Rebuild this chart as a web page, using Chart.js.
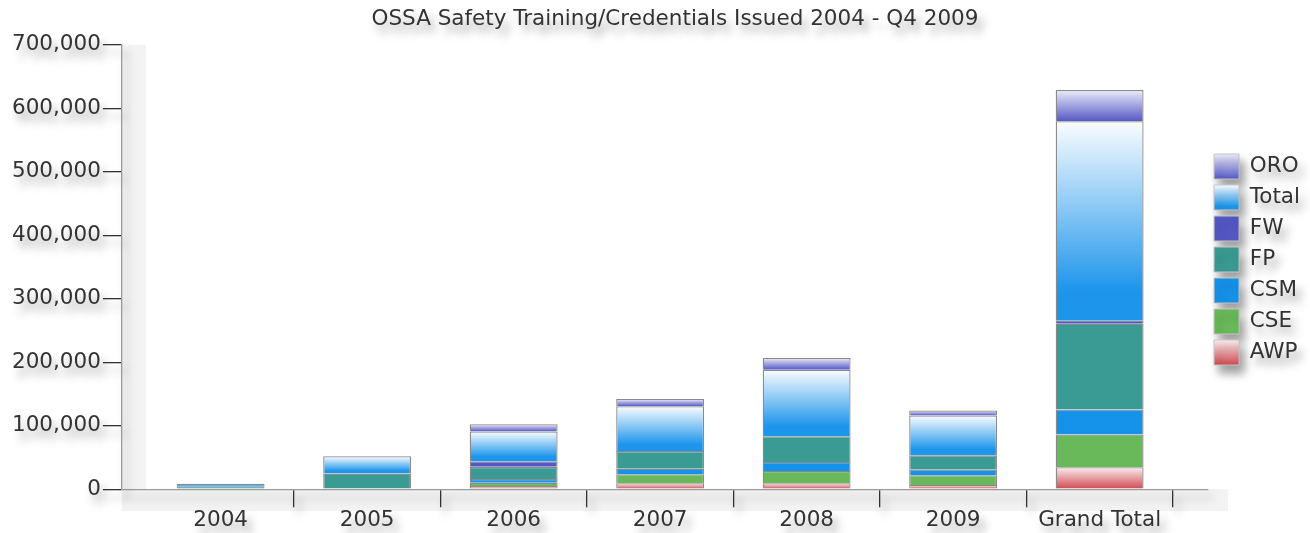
<!DOCTYPE html>
<html>
<head>
<meta charset="utf-8">
<title>OSSA Safety Training/Credentials Issued 2004 - Q4 2009</title>
<script src="https://cdn.jsdelivr.net/npm/chart.js@4.4.1/dist/chart.umd.min.js"></script>
<style>
  html, body { margin: 0; padding: 0; background: #fff; }
  #wrap { position: relative; width: 1310px; height: 533px; }
</style>
</head>
<body>
<div id="wrap"><canvas id="chart"></canvas></div>
<script>
// --- Data ---
const categories = ['2004', '2005', '2006', '2007', '2008', '2009', 'Grand Total'];

const awp   = [null, null, 5000, 9400, 9400, 6700, 34500];
const cse   = [null, null, 5200, 14100, 19300, 15200, 51800];
const csm   = [null, null, 6000, 8900, 14100, 9400, 39200];
const fp    = [4000, 24600, 19000, 27600, 40800, 22000, 135000];
const fw    = [null, null, 8800, null, null, null, 5000];
const total = [4600, 27200, 47000, 70600, 104700, 62800, 314000];
const oro   = [null, null, 11500, 11600, 18400, 7800, 49300];

const yTicks = [0, 100000, 200000, 300000, 400000, 500000, 600000, 700000];

// bottom of the stack first, legend shows it reversed
const seriesNames = ['AWP', 'CSE', 'CSM', 'FP', 'FW', 'Total', 'ORO'];
const seriesValues = [awp, cse, csm, fp, fw, total, oro];

// --- Looks ---
const styles = [
  { color: '#d8646a', stops: [[0, '#faeeee'], [1, '#d04850']] },
  { color: '#69b95a' },
  { color: '#1592ea' },
  { color: '#3a9b94' },
  { color: '#5458c4' },
  { color: '#4aa8ee', stops: [[0, '#fbfdff'], [0.85, '#1d95eb'], [1, '#1d95eb']] },
  { color: '#8084d4', stops: [[0, '#ececf9'], [1, '#5559c6']] }
];
const font = { family: 'DejaVu Sans', size: 21.5 };
const textColor = '#333';

function stackBase(datasetIndex, index) {
  let s = 0;
  for (let d = 0; d < datasetIndex; d++) s += seriesValues[d][index] || 0;
  return s;
}

function fillFor(style) {
  if (!style.stops) return style.color;
  return (ctx) => {
    const y = ctx.chart.scales.y;
    if (ctx.type !== 'data' || !y) return style.color;
    const base = stackBase(ctx.datasetIndex, ctx.dataIndex);
    const v = seriesValues[ctx.datasetIndex][ctx.dataIndex] || 0;
    const top = y.getPixelForValue(base + v);
    const bottom = y.getPixelForValue(base);
    if (!isFinite(top) || !isFinite(bottom)) return style.color;
    const g = ctx.chart.ctx.createLinearGradient(0, top, 0, bottom);
    style.stops.forEach(([o, c]) => g.addColorStop(o, c));
    return g;
  };
}

// light bands under the axes plus the blurred shadow behind texts and legend
const softShadow = {
  id: 'softShadow',
  afterLayout(chart) {
    // legend a bit higher and title a bit further right than Chart.js centres them
    if (chart.legend) { chart.legend.top -= 7; chart.legend.bottom -= 7; }
    if (chart.titleBlock) { chart.titleBlock.left += 10; chart.titleBlock.right += 10; }
  },
  beforeDraw(chart) {
    const { ctx, chartArea: a } = chart;
    ctx.save();
    ctx.fillStyle = '#f3f3f3';
    ctx.fillRect(a.left, a.top, 24, a.bottom - a.top);
    ctx.fillRect(a.left, a.bottom, a.right - a.left + 20, 22);
    ctx.restore();
    ctx.shadowColor = 'rgba(0,0,0,0.38)';
    ctx.shadowBlur = 10;
    ctx.shadowOffsetX = 5;
    ctx.shadowOffsetY = 8;
  },
  beforeDatasetsDraw(chart) {
    const ctx = chart.ctx;
    ctx.shadowColor = 'rgba(0,0,0,0)';
    ctx.shadowBlur = 0;
    ctx.shadowOffsetX = 0;
    ctx.shadowOffsetY = 0;
  }
};

// legend boxes get the same gradients as the bars
const legendGradients = {
  id: 'legendGradients',
  beforeDraw(chart) {
    const legend = chart.legend;
    if (!legend || !legend.legendItems) return;
    legend.legendItems.forEach((item, i) => {
      const box = legend.legendHitBoxes[i];
      const st = styles[item.datasetIndex];
      item.lineWidth = 1;
      item.strokeStyle = '#c4c4c4';
      if (st.stops && box) {
        const g = chart.ctx.createLinearGradient(0, box.top, 0, box.top + box.height);
        st.stops.forEach(([o, c]) => g.addColorStop(o, c));
        item.fillStyle = g;
      }
    });
  }
};

const datasets = seriesNames.map((name, d) => ({
  label: name,
  data: seriesValues[d].map((v, i) => ({ x: i, y: v })),
  backgroundColor: fillFor(styles[d]),
  borderColor: '#8a8a8a',
  borderWidth: 1.3,
  borderSkipped: 'start',
  categoryPercentage: 0.6,
  barPercentage: 1
}));

new Chart(document.getElementById('chart'), {
  type: 'bar',
  data: { datasets },
  plugins: [softShadow, legendGradients],
  options: {
    responsive: true,
    maintainAspectRatio: false,
    animation: false,
    layout: { padding: { left: 10, right: 0, top: 0, bottom: 0 } },
    plugins: {
      title: {
        display: true,
        fullSize: false,
        text: 'OSSA Safety Training/Credentials Issued 2004 - Q4 2009',
        color: textColor,
        font: { ...font, weight: 'normal' },
        padding: { top: 7, bottom: 12 }
      },
      legend: {
        position: 'right',
        reverse: true,
        labels: { boxWidth: 25, boxHeight: 25, padding: 6, color: textColor, font }
      },
      tooltip: { enabled: false }
    },
    scales: {
      x: {
        type: 'linear',
        stacked: true,
        offset: false,
        min: -0.674,
        max: 6.74,
        afterBuildTicks: (axis) => { axis.ticks = categories.map((_, i) => ({ value: i })); },
        ticks: {
          callback: (v) => categories[v] ?? '',
          color: textColor, font, padding: 0, maxRotation: 0, autoSkip: false
        },
        grid: {
          offset: true,
          drawOnChartArea: false,
          tickLength: 18,
          lineWidth: 1.3,
          tickColor: (c) => c.index === 0 ? 'rgba(0,0,0,0)' : '#333'
        },
        border: { color: '#9a9a9a', width: 1.3 }
      },
      y: {
        stacked: true,
        min: 0,
        max: 700000,
        afterBuildTicks: (axis) => { axis.ticks = yTicks.map(v => ({ value: v })); },
        ticks: { callback: (v) => v.toLocaleString('en-US'), color: textColor, font, padding: 2 },
        grid: { drawOnChartArea: false, tickLength: 19, lineWidth: 1.3, tickColor: '#333' },
        border: { color: '#9a9a9a', width: 1.3 }
      }
    }
  }
});
</script>
</body>
</html>
